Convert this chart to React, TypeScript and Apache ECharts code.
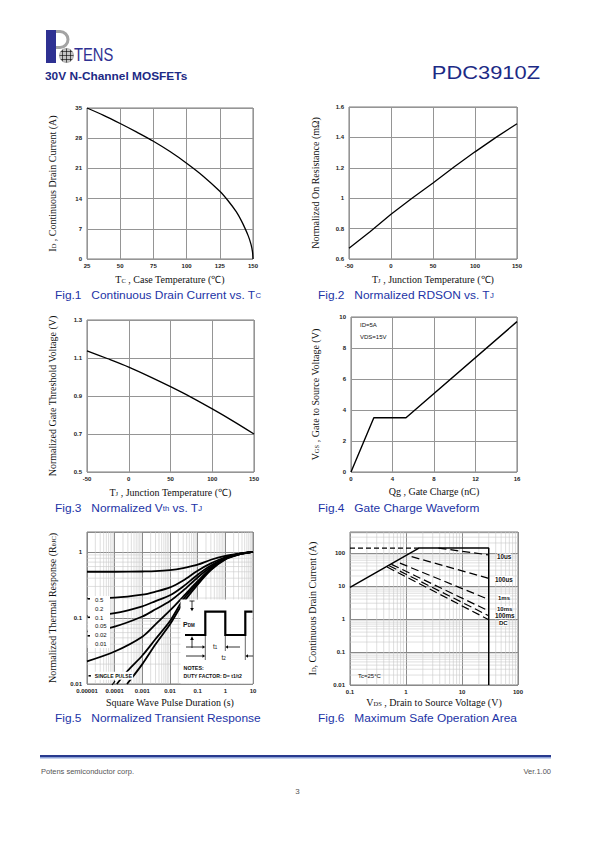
import React, { useEffect, useRef } from 'react';
import * as echarts from 'echarts';

// ---------- Fig.1 Continuous Drain Current vs. Tc ----------
const fig1Tc = [25, 37.5, 50, 62.5, 75, 87.5, 100, 112.5, 125, 131.25, 137.5, 141, 144, 146.5, 148.5, 149.6, 150];
const fig1Id = [35, 33.3, 31.4, 29.4, 27.3, 24.9, 22.2, 19.2, 15.7, 13.5, 10.9, 9.0, 7.1, 5.3, 3.4, 1.7, 0];

// ---------- Fig.2 Normalized RDSON vs. Tj ----------
const fig2Tj = [-50, -25, 0, 25, 50, 75, 100, 125, 150];
const fig2R = [0.67, 0.78, 0.895, 1.0, 1.1, 1.205, 1.305, 1.4, 1.49];

// ---------- Fig.3 Normalized Vth vs. Tj ----------
const fig3Tj = [-50, -25, 0, 25, 50, 75, 100, 125, 150];
const fig3V = [1.138, 1.096, 1.052, 1.002, 0.949, 0.893, 0.832, 0.768, 0.7];

// ---------- Fig.4 Gate Charge ----------
const fig4Qg = [0, 2.2, 5.3, 16];
const fig4Vgs = [0, 3.5, 3.5, 9.7];

// ---------- Fig.5 Normalized Transient Response ----------
const fig5Time = [1e-5, 1e-4, 1e-3, 3e-3, 0.01, 0.03, 0.1, 0.3, 1, 3, 10];
const fig5D05 = [0.5, 0.5, 0.505, 0.51, 0.53, 0.57, 0.64, 0.76, 0.87, 0.94, 1];
const fig5D02 = [0.2, 0.203, 0.225, 0.25, 0.29, 0.37, 0.52, 0.67, 0.83, 0.93, 1];
const fig5D01 = [0.107, 0.118, 0.15, 0.18, 0.22, 0.3, 0.45, 0.62, 0.81, 0.93, 1];
const fig5D005 = [0.062, 0.074, 0.105, 0.135, 0.18, 0.26, 0.41, 0.59, 0.8, 0.92, 1];
const fig5D002 = [0.022, 0.031, 0.052, 0.08, 0.13, 0.21, 0.36, 0.56, 0.79, 0.92, 1];
const fig5TimeD001 = [1.2e-4, 3e-4, 1e-3, 3e-3, 0.01, 0.03, 0.1, 0.3, 1, 3, 10];
const fig5D001 = [0.01, 0.016, 0.027, 0.048, 0.09, 0.19, 0.34, 0.54, 0.78, 0.91, 1];
const fig5TimeSingle = [2.8e-4, 1e-3, 3e-3, 0.01, 0.03, 0.1, 0.3, 1, 3, 10];
const fig5Single = [0.01, 0.02, 0.04, 0.08, 0.17, 0.32, 0.53, 0.77, 0.91, 1];
const fig5DutyLabels = ['0.5', '0.2', '0.1', '0.05', '0.02', '0.01'];

// ---------- Fig.6 Maximum Safe Operation Area ----------
const fig6BoundV = [0.1, 1.7, 30, 30];
const fig6BoundI = [9, 140, 140, 0.01];
const fig6RdsV = [0.1, 1.7];
const fig6RdsI = [140, 140];
const fig6PulseNames = ['10us', '100us', '1ms', '10ms', '100ms', 'DC'];
const fig6PulseV = [[3.8, 30], [1.26, 30], [0.78, 30], [0.55, 30], [0.5, 30], [0.46, 30]];
const fig6PulseI = [[140, 87], [77, 17], [49, 3.9], [45, 1.75], [41, 1.25], [37.5, 0.95]];

const SANS = '"Liberation Sans", Arial, sans-serif';
const SERIF = '"Liberation Serif", "Times New Roman", serif';
const NAVY = '#1c2a85';
const CAPBLUE = '#2233a6';

type Part = [string, boolean];
const richStr = (parts: Part[]) => parts.map(([t, s]) => `{${s ? 's' : 'n'}|${t}}`).join('');

const nameStyle = {
  fontFamily: SERIF, fontSize: 10, color: '#111',
  rich: {
    n: { fontFamily: SERIF, fontSize: 10, color: '#111' },
    s: { fontFamily: SERIF, fontSize: 6.5, color: '#111', verticalAlign: 'bottom' },
  },
};

const labelStyle = { fontFamily: SANS, fontSize: 6, fontWeight: 'bold', color: '#222' };

const logLabel = (v: number) => {
  const e = Math.log10(v);
  const r = Math.round(e);
  if (Math.abs(e - r) > 1e-6) return '';
  return r < 0 ? Math.pow(10, r).toFixed(-r) : String(Math.round(Math.pow(10, r)));
};

function linAxis(gridIndex: number, min: number, max: number, interval: number, name: string, nameGap: number, margin: number) {
  return {
    type: 'value', gridIndex, min, max, interval, name, nameGap, nameLocation: 'middle',
    nameTextStyle: nameStyle,
    axisLine: { show: false }, axisTick: { show: false },
    axisLabel: { ...labelStyle, margin },
    splitLine: { show: true, lineStyle: { color: '#959595', width: 1 } },
  };
}

function logAxis(gridIndex: number, min: number, max: number, name: string, nameGap: number, margin: number) {
  return {
    type: 'log', logBase: 10, gridIndex, min, max, name, nameGap, nameLocation: 'middle',
    nameTextStyle: nameStyle,
    axisLine: { show: false }, axisTick: { show: false },
    axisLabel: { ...labelStyle, margin, formatter: logLabel, showMaxLabel: true, showMinLabel: true },
    splitLine: { show: true, lineStyle: { color: '#8a8a8a', width: 1 } },
  };
}

function minors(kFrom: number, kTo: number, lo: number, hi: number) {
  const out: number[] = [];
  for (let k = kFrom; k <= kTo; k++) {
    for (let m = 2; m <= 9; m++) {
      const v = m * Math.pow(10, k);
      if (v > lo * 1.0001 && v < hi * 0.9999) out.push(v);
    }
  }
  return out;
}

function minorSeries(idx: number, vertical: boolean, values: number[], other: [number, number]) {
  return {
    type: 'custom', xAxisIndex: idx, yAxisIndex: idx, z: 1, silent: true,
    data: values.map((v) => (vertical ? [v, other[0]] : [other[0], v])),
    renderItem: (params: any, api: any) => {
      const v = api.value(vertical ? 0 : 1);
      const a = vertical ? api.coord([v, other[0]]) : api.coord([other[0], v]);
      const b = vertical ? api.coord([v, other[1]]) : api.coord([other[1], v]);
      return {
        type: 'line',
        shape: { x1: a[0], y1: a[1], x2: b[0], y2: b[1] },
        style: { stroke: '#c9c9c9', lineWidth: 0.6 },
      };
    },
  };
}

function lineSeries(idx: number, xs: number[], ys: number[], width: number, extra: any = {}) {
  return {
    type: 'line', xAxisIndex: idx, yAxisIndex: idx, z: 3, silent: true,
    data: xs.map((x, i) => [x, ys[i]]),
    symbol: 'none', showSymbol: false,
    lineStyle: { color: '#000', width, ...(extra.lineStyle || {}) },
    smooth: extra.smooth || false,
  };
}

function txt(x: number, y: number, text: string, style: any, extra: any = {}) {
  return { type: 'text', x, y, z: 100, silent: true, style: { text, ...style }, ...extra };
}

function richTxt(x: number, y: number, parts: Part[], base: any, subSize: number, extra: any = {}) {
  return {
    type: 'text', x, y, z: 100, silent: true, ...extra,
    style: {
      text: richStr(parts),
      verticalAlign: 'middle',
      rich: {
        n: { fontFamily: base.fontFamily, fontSize: base.fontSize, fontWeight: base.fontWeight || 'normal', fill: base.fill },
        s: { fontFamily: base.fontFamily, fontSize: subSize, fontWeight: base.fontWeight || 'normal', fill: base.fill, verticalAlign: 'bottom' },
      },
    },
  };
}

function seg(x1: number, y1: number, x2: number, y2: number, w = 0.8) {
  return { type: 'line', z: 101, silent: true, shape: { x1, y1, x2, y2 }, style: { stroke: '#000', lineWidth: w } };
}
function tri(points: number[][]) {
  return { type: 'polygon', z: 101, silent: true, shape: { points }, style: { fill: '#000' } };
}

function buildOption() {
  const grids = [
    { left: 87, top: 108, width: 166, height: 151 },
    { left: 349, top: 107, width: 168, height: 152 },
    { left: 87, top: 320, width: 167, height: 152 },
    { left: 351, top: 317, width: 166, height: 155 },
    { left: 87, top: 532, width: 166, height: 152 },
    { left: 350, top: 532, width: 168, height: 153 },
  ].map((g) => ({ ...g, show: true, borderColor: '#7a7a7a', borderWidth: 1, backgroundColor: '#fff', containLabel: false, outerBoundsMode: 'none' }));

  const tj: Part[] = [['T', false], ['J', true], [' , Junction Temperature (℃)', false]];

  const xAxis = [
    linAxis(0, 25, 150, 25, richStr([['T', false], ['C', true], [' , Case Temperature (℃)', false]]), 15, 4),
    linAxis(1, -50, 150, 50, richStr(tj), 15, 4),
    linAxis(2, -50, 150, 50, richStr(tj), 15, 4),
    linAxis(3, 0, 16, 4, richStr([['Qg , Gate Charge (nC)', false]]), 14, 4),
    logAxis(4, 0.00001, 10, richStr([['Square Wave Pulse Duration (s)', false]]), 13, 4),
    logAxis(5, 0.1, 100, richStr([['V', false], ['DS', true], [' , Drain to Source Voltage (V)', false]]), 12, 4),
  ];
  const yAxis = [
    linAxis(0, 0, 35, 7, richStr([['I', false], ['D', true], [' , Continuous Drain Current (A)', false]]), 30, 5),
    linAxis(1, 0.6, 1.6, 0.2, richStr([['Normalized On Resistance (mΩ)', false]]), 29, 5),
    linAxis(2, 0.5, 1.3, 0.2, richStr([['Normalized Gate Threshold Voltage (V)', false]]), 30, 5),
    linAxis(3, 0, 10, 2, richStr([['V', false], ['GS', true], [' , Gate to Source Voltage (V)', false]]), 31, 5),
    logAxis(4, 0.01, 2, richStr([['Normalized Thermal Response (R', false], ['θJC', true], [')', false]]), 30, 5),
    logAxis(5, 0.01, 430, richStr([['I', false], ['D', true], [', Continuous Drain Current (A)', false]]), 33, 5),
  ];

  const series: any[] = [
    lineSeries(0, fig1Tc, fig1Id, 1.3, { smooth: 0.3 }),
    lineSeries(1, fig2Tj, fig2R, 1.3),
    lineSeries(2, fig3Tj, fig3V, 1.3, { smooth: 0.3 }),
    lineSeries(3, fig4Qg, fig4Vgs, 1.4),
    // Fig.5 minor grid
    minorSeries(4, true, minors(-5, 0, 0.00001, 10), [0.01, 2]),
    minorSeries(4, false, minors(-2, 0, 0.01, 2), [0.00001, 10]),
    lineSeries(4, fig5Time, fig5D05, 1.8, { smooth: 0.3 }),
    lineSeries(4, fig5Time, fig5D02, 1.8, { smooth: 0.3 }),
    lineSeries(4, fig5Time, fig5D01, 1.8, { smooth: 0.3 }),
    lineSeries(4, fig5Time, fig5D005, 1.8, { smooth: 0.3 }),
    lineSeries(4, fig5Time, fig5D002, 1.8, { smooth: 0.3 }),
    lineSeries(4, fig5TimeD001, fig5D001, 1.8, { smooth: 0.3 }),
    lineSeries(4, fig5TimeSingle, fig5Single, 1.8, { smooth: 0.3 }),
    // Fig.6 minor grid
    minorSeries(5, true, minors(-1, 1, 0.1, 100), [0.01, 430]),
    minorSeries(5, false, minors(-2, 2, 0.01, 430), [0.1, 100]),
    lineSeries(5, fig6BoundV, fig6BoundI, 1.5),
    lineSeries(5, fig6RdsV, fig6RdsI, 1.2, { lineStyle: { type: [5, 3] } }),
    ...fig6PulseNames.map((_, i) => lineSeries(5, fig6PulseV[i], fig6PulseI[i], 1.2, { lineStyle: { type: [8, 4] } })),
  ];

  const capBase = { fontFamily: SANS, fontSize: 10, fill: CAPBLUE };
  const capSub = 6.5;
  const capExtra = { scaleX: 1.19 };
  const small = { fontFamily: SANS, fontSize: 6, fill: '#111' };
  const smallB = { fontFamily: SANS, fontSize: 6, fontWeight: 'bold', fill: '#111' };
  const sosLbl = { fontFamily: SANS, fontWeight: 'bold', fill: '#111', verticalAlign: 'middle', backgroundColor: '#fff' };

  const graphic: any[] = [
    // ----- header logo -----
    { type: 'rect', z: 100, shape: { x: 46, y: 30, width: 10, height: 33 }, style: { fill: '#2e3192' } },
    { type: 'arc', z: 100, shape: { cx: 60, cy: 39.5, r: 8, startAngle: -Math.PI / 2, endAngle: Math.PI / 2, clockwise: true }, style: { stroke: '#a3a3a3', lineWidth: 3, fill: 'none' } },
    { type: 'rect', z: 100, shape: { x: 56, y: 30, width: 4, height: 3 }, style: { fill: '#a3a3a3' } },
    { type: 'rect', z: 100, shape: { x: 56, y: 46, width: 4, height: 3 }, style: { fill: '#a3a3a3' } },
    { type: 'circle', z: 100, shape: { cx: 66.5, cy: 55.5, r: 7 }, style: { fill: '#c4c4c4', stroke: '#8a8a8a', lineWidth: 0.6 } },
    seg(60.8, 51.5, 72.2, 51.5, 0.6), seg(59.5, 55.5, 73.5, 55.5, 0.6), seg(60.8, 59.5, 72.2, 59.5, 0.6),
    seg(62.5, 49.8, 62.5, 61.2, 0.6), seg(66.5, 48.5, 66.5, 62.5, 0.6), seg(70.5, 49.8, 70.5, 61.2, 0.6),
    txt(74, 63, 'TENS', { fontFamily: SANS, fontSize: 18, fill: '#2e3192', verticalAlign: 'bottom' }, { scaleX: 0.82 }),
    txt(45, 76, '30V N-Channel MOSFETs', { fontFamily: SANS, fontSize: 11, fontWeight: 'bold', fill: NAVY, verticalAlign: 'middle' }, { scaleX: 1.08 }),
    txt(540, 73, 'PDC3910Z', { fontFamily: SANS, fontSize: 17.5, fill: NAVY, align: 'right', verticalAlign: 'middle' }, { scaleX: 1.25 }),

    // ----- captions -----
    richTxt(55, 295, [['Fig.1   Continuous Drain Current vs. T', false], ['C', true]], capBase, capSub, capExtra),
    richTxt(318, 295, [['Fig.2   Normalized RDSON vs. T', false], ['J', true]], capBase, capSub, capExtra),
    richTxt(55, 508, [['Fig.3   Normalized V', false], ['th', true], [' vs. T', false], ['J', true]], capBase, capSub, capExtra),
    richTxt(318, 508, [['Fig.4   Gate Charge Waveform', false]], capBase, capSub, capExtra),
    richTxt(55, 718, [['Fig.5   Normalized Transient Response', false]], capBase, capSub, capExtra),
    richTxt(318, 718, [['Fig.6   Maximum Safe Operation Area', false]], capBase, capSub, capExtra),

    // ----- Fig.4 notes -----
    txt(360, 325, 'ID=5A', { ...small, verticalAlign: 'middle' }),
    txt(360, 336.5, 'VDS=15V', { ...small, verticalAlign: 'middle' }),

    // ----- Fig.5 duty labels box -----
    { type: 'rect', z: 100, shape: { x: 87.6, y: 596, width: 22.4, height: 52 }, style: { fill: '#fff' } },
    ...fig5DutyLabels.map((l, i) => txt(95, 600 + i * 8.8, l, { ...small, verticalAlign: 'middle' })),
    { type: 'rect', z: 101, shape: { x: 87.6, y: 598, width: 2.4, height: 1.6 }, style: { fill: '#000' } },
    { type: 'rect', z: 101, shape: { x: 87.6, y: 616.5, width: 2.4, height: 1.6 }, style: { fill: '#000' } },
    { type: 'rect', z: 101, shape: { x: 87.6, y: 635, width: 2.4, height: 1.6 }, style: { fill: '#000' } },
    { type: 'rect', z: 101, shape: { x: 88.5, y: 675, width: 2.4, height: 1.6 }, style: { fill: '#000' } },
    txt(94, 675.7, 'SINGLE PULSE', { ...smallB, verticalAlign: 'middle', backgroundColor: '#fff', padding: [1, 1] }, { scaleX: 0.85 }),
    seg(112, 685, 115, 681, 1.2),

    // ----- Fig.5 inset -----
    { type: 'rect', z: 100, shape: { x: 180.5, y: 599.5, width: 72, height: 84 }, style: { fill: '#fff' } },
    { type: 'polyline', z: 101, shape: { points: [[185, 635], [205.3, 635], [205.3, 611.7], [225.3, 611.7], [225.3, 635], [245.3, 635], [245.3, 611.7], [252.5, 611.7]] }, style: { stroke: '#000', lineWidth: 2.2, fill: 'none' } },
    richTxt(183, 624.5, [['P', false], ['DM', true]], { fontFamily: SANS, fontSize: 7, fontWeight: 'bold', fill: '#111' }, 4.5),
    seg(192, 601, 192, 608.5), tri([[190.2, 608], [193.8, 608], [192, 611.2]]),
    seg(189.5, 601, 194.5, 601),
    seg(192, 648, 192, 639.5), tri([[190.2, 640], [193.8, 640], [192, 636.3]]),
    seg(205.3, 635, 205.3, 660, 0.6), seg(225.3, 635, 225.3, 651, 0.6), seg(245.3, 635, 245.3, 660, 0.6),
    seg(186, 647, 203, 647), tri([[202.5, 645.3], [202.5, 648.7], [205.2, 647]]),
    seg(240, 647, 228, 647), tri([[228, 645.3], [228, 648.7], [225.4, 647]]),
    seg(186, 656, 203, 656), tri([[202.5, 654.3], [202.5, 657.7], [205.2, 656]]),
    seg(253, 656, 248, 656), tri([[248, 654.3], [248, 657.7], [245.4, 656]]),
    richTxt(213, 646.5, [['t', false], ['1', true]], { fontFamily: SANS, fontSize: 6.5, fill: '#111' }, 4.5),
    richTxt(221.5, 657.5, [['t', false], ['2', true]], { fontFamily: SANS, fontSize: 6.5, fill: '#111' }, 4.5),
    txt(183.5, 668.3, 'NOTES:', { ...smallB, verticalAlign: 'middle' }, { scaleX: 0.9 }),
    txt(183.5, 675.8, 'DUTY FACTOR: D= t1/t2', { ...smallB, verticalAlign: 'middle' }, { scaleX: 0.86 }),

    // ----- Fig.6 labels -----
    txt(497, 556.5, '10us', { ...sosLbl, fontSize: 6.3 }),
    txt(495, 579, '100us', { ...sosLbl, fontSize: 6.3 }),
    txt(498, 597.5, '1ms', { ...sosLbl, fontSize: 6 }),
    txt(497, 609, '10ms', { ...sosLbl, fontSize: 6 }),
    txt(495, 615.8, '100ms', { ...sosLbl, fontSize: 6.3 }),
    txt(499, 623, 'DC', { ...sosLbl, fontSize: 6 }),
    txt(358, 676.3, 'Tc=25°C', { ...small, verticalAlign: 'middle' }),

    // ----- footer -----
    { type: 'rect', z: 100, shape: { x: 40, y: 755, width: 511, height: 2 }, style: { fill: '#283a8e' } },
    { type: 'rect', z: 100, shape: { x: 40, y: 757, width: 511, height: 1.5 }, style: { fill: '#8ea3d8' } },
    txt(41, 771, 'Potens semiconductor corp.', { fontFamily: SANS, fontSize: 7.5, fill: '#555', verticalAlign: 'middle' }),
    txt(551, 771, 'Ver.1.00', { fontFamily: SANS, fontSize: 7.5, fill: '#555', align: 'right', verticalAlign: 'middle' }),
    txt(297.5, 791, '3', { fontFamily: SANS, fontSize: 8, fill: '#555', align: 'center', verticalAlign: 'middle' }),
  ];

  return {
    animation: false,
    backgroundColor: '#fff',
    grid: grids,
    xAxis,
    yAxis,
    series,
    graphic,
  };
}

export default function App() {
  const ref = useRef<HTMLDivElement>(null);
  useEffect(() => {
    if (!ref.current) return;
    const chart = echarts.init(ref.current, null, { renderer: 'svg' });
    chart.setOption(buildOption() as any);
    return () => chart.dispose();
  }, []);
  return (
    <div
      ref={ref}
      style={{ position: 'absolute', left: 0, top: 0, width: 595, height: 842, background: '#fff' }}
    />
  );
}
